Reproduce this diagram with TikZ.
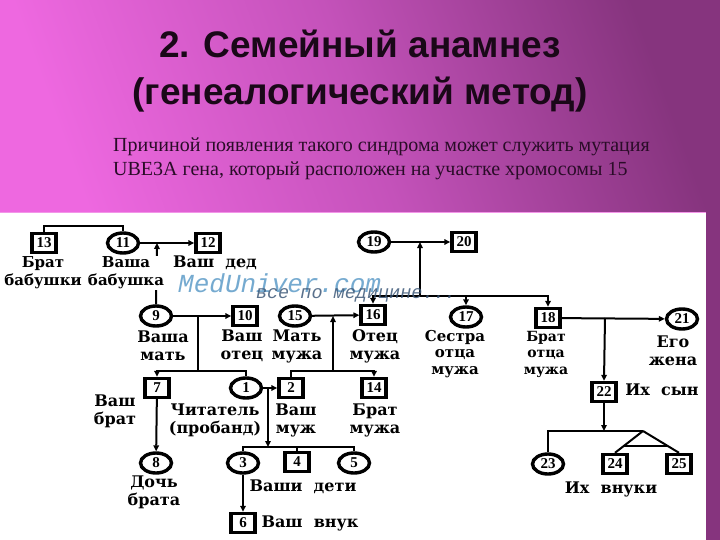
\documentclass[tikz,border=0pt]{standalone}
\usepackage{fontspec}
\setmainfont{Liberation Serif}
\newfontfamily\titlefont{Liberation Sans}
\newfontfamily\pedfont{DejaVu Serif}
\newfontfamily\wmfont{Liberation Mono}
\usetikzlibrary{arrows.meta,shapes.geometric,calc}
\definecolor{pinkL}{HTML}{EE68E0}
\definecolor{pinkM}{HTML}{C452BA}
\definecolor{purpR}{HTML}{86347E}
\definecolor{titleC}{HTML}{1A0818}
\definecolor{subC}{HTML}{2A0C28}
\definecolor{wmA}{HTML}{5E9CC8}
\definecolor{wmB}{HTML}{3C5878}
\begin{document}
\begin{tikzpicture}[x=1pt,y=-1pt,
  sq/.style={draw, line width=3.4pt, fill=white, minimum width=24pt, minimum height=19pt, inner sep=0pt, font=\bfseries\fontsize{15}{15}\selectfont},
  fe/.style={draw, ellipse, line width=3.4pt, fill=white, minimum width=31pt, minimum height=20pt, inner sep=0pt, font=\bfseries\fontsize{15}{15}\selectfont},
  lbl/.style={font=\pedfont\bfseries\fontsize{16}{18}\selectfont, align=center, fill=white, inner sep=0.5pt},
  lbls/.style={lbl, font=\pedfont\bfseries\fontsize{15}{18}\selectfont},
  ln/.style={line width=2pt},
  arr/.style={ln, -{Triangle[length=6pt,width=5.5pt]}}]
\useasboundingbox (0,0) rectangle (720,540);
% background
\shade[left color=pinkL, right color=purpR, middle color=pinkM, shading angle=110] (0,0) rectangle (720,213);
\fill[purpR] (706,212) rectangle (720,540);
\fill[white] (0,213) rectangle (706,540);
\draw[pinkL!70!white, line width=1pt] (0,212.5) -- (706,212.5);
% title
\node[anchor=base, font=\titlefont\bfseries\fontsize{37}{44}\selectfont, text=titleC] (t1) at (360,58) {2. Семейный анамнез};
\node[anchor=base, font=\titlefont\bfseries\fontsize{37}{44}\selectfont, text=titleC] (t2) at (360,105) {(генеалогический метод)};
\node[anchor=base west, font=\fontsize{20}{22}\selectfont, text=subC, inner sep=0pt] (s1) at (113,152) {Причиной появления такого синдрома может служить мутация};
\node[anchor=base west, font=\fontsize{20}{22}\selectfont, text=subC, inner sep=0pt] (s2) at (113,176) {UBE3A гена, который расположен на участке хромосомы 15};
% persons
\node[sq] (n13) at (44,243) {13};
\node[fe] (n11) at (123,243) {11};
\node[sq] (n12) at (208,243) {12};
\node[fe] (n19) at (374,242) {19};
\node[sq] (n20) at (464,242) {20};
\node[fe] (n9) at (156,316) {9};
\node[sq] (n10) at (245,316) {10};
\node[fe] (n15) at (295,316) {15};
\node[sq] (n16) at (373,315) {16};
\node[fe] (n17) at (466,317) {17};
\node[sq] (n18) at (548,318) {18};
\node[fe] (n21) at (682,319) {21};
\node[sq] (n7) at (157,388) {7};
\node[fe] (n1) at (246,388) {1};
\node[sq] (n2) at (291,388) {2};
\node[sq] (n14) at (374,388) {14};
\node[sq] (n22) at (604,392) {22};
\node[fe] (n8) at (156,463) {8};
\node[fe] (n3) at (243,463) {3};
\node[sq] (n4) at (297,462) {4};
\node[fe] (n5) at (354,463) {5};
\node[sq] (n6) at (243,523) {6};
\node[fe] (n23) at (548,464) {23};
\node[sq] (n24) at (615,464) {24};
\node[sq] (n25) at (679,464) {25};
% junction points
\coordinate (j1311) at (84,226);
\coordinate (m1112) at (157,243);
\coordinate (m1920) at (420,242);
\coordinate (s1618) at (420,296);
\coordinate (m910) at (198,316);
\coordinate (s71) at (198,371);
\coordinate (m1516) at (333,316);
\coordinate (s214) at (333,371);
\coordinate (m12) at (268,388);
\coordinate (k345) at (268,447);
\coordinate (m1821) at (605,318);
\coordinate (g22) at (604,431);
\coordinate (tw) at (643,431);
% connectors
\draw[ln] (n13.north) |- (j1311) -| (n11.north);
\draw[arr] (n11) -- (n12);
\draw[arr] (n9.north) -- (m1112);
\draw[arr] (n19) -- (n20);
\draw[arr] (s1618) -- (m1920);
\draw[arr] (s1618) -| (n16.north);
\draw[arr] (s1618) -| (n17.north);
\draw[arr] (s1618) -| (n18.north);
\draw[arr] (n9) -- (n10);
\draw[ln] (m910) -- (s71);
\draw[arr] (s71) -| (n7.north);
\draw[ln] (s71) -| (n1.north);
\draw[arr] (n15) -- (n16);
\draw[arr] (s214) -- (m1516);
\draw[ln] (s214) -| (n2.north);
\draw[arr] (s214) -| (n14.north);
\draw[arr] (n1) -- (n2);
\draw[arr] (m12) -- (k345);
\draw[ln] (k345) -| (n3.north);
\draw[ln] (k345) -| (n5.north);
\draw[ln] (n4.north) -- (n4.north |- k345);
\draw[arr] (n7) -- (n8);
\draw[arr] (n3) -- (n6);
\draw[arr] (n18) -- (n21);
\draw[arr] (m1821) -- (n22.north);
\draw[arr] (n22.south) -- (g22);
\draw[ln] (g22) -| (n23.north);
\draw[ln] (g22) -- (tw);
\draw[ln] (tw) -- (n24.north);
\draw[ln] (tw) -- (n25.north);
\draw[ln] ($(tw)!0.7!(n24.north)$) -- ($(tw)!0.7!(n25.north)$);
% labels
\node[lbls] (l13) at (43,273) {Брат\\бабушки};
\node[lbls] (l11) at (126,273) {Ваша\\бабушка};
\node[lbl] (l12) at (215,263) {Ваш\ \ дед};
\node[lbl] (l9) at (163,346) {Ваша\\мать};
\node[lbl] (l10) at (242,346) {Ваш\\отец};
\node[lbl] (l15) at (297,346) {Мать\\мужа};
\node[lbl] (l16) at (375,346) {Отец\\мужа};
\node[lbl, font=\pedfont\bfseries\fontsize{15}{16.5}\selectfont] (l17) at (455,354) {Сестра\\отца\\мужа};
\node[lbl, font=\pedfont\bfseries\fontsize{14}{16.5}\selectfont] (l18) at (546,354) {Брат\\отца\\мужа};
\node[lbl] (l21) at (673,351) {Его\\жена};
\node[lbl] (l7) at (115,411) {Ваш\\брат};
\node[lbl] (l1) at (215,420) {Читатель\\(пробанд)};
\node[lbl] (l2) at (296,420) {Ваш\\муж};
\node[lbl] (l14) at (375,420) {Брат\\мужа};
\node[lbl] (l8) at (154,492) {Дочь\\брата};
\node[lbl] (l345) at (303,487) {Ваши\ \ дети};
\node[lbl] (l6) at (310,523) {Ваш\ \ внук};
\node[lbl] (l22) at (662,390) {Их\ \ сын};
\node[lbl] (l2325) at (611,489) {Их\ \ внуки};
% watermark
\node[anchor=base west, inner sep=0pt, text=wmA, opacity=0.85, font=\wmfont\itshape\fontsize{26}{26}\selectfont] (wm) at (178,292) {MedUniver.com\rlap{\hspace*{-125pt}\raisebox{-6.5pt}{\fontsize{18.5}{18.5}\selectfont\textcolor{wmB}{все по медицине...}}}};
\end{tikzpicture}
\end{document}
